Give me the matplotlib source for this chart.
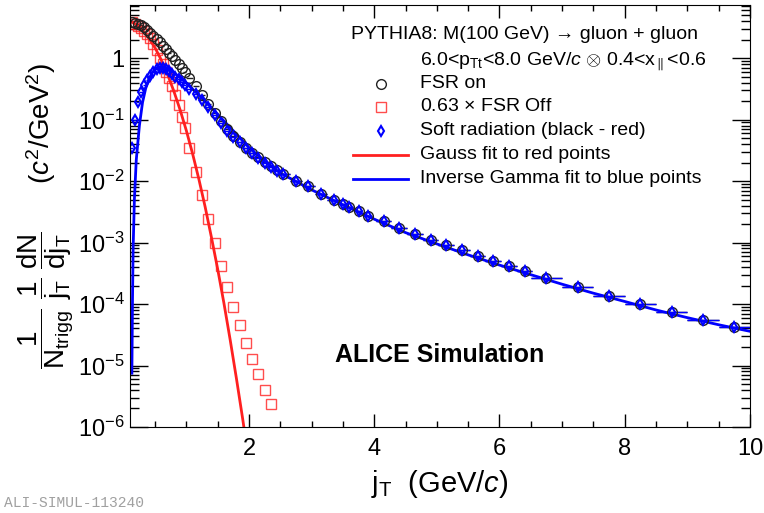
import numpy as np
import matplotlib
matplotlib.use("Agg")
import matplotlib.pyplot as plt
from matplotlib.lines import Line2D
from matplotlib.ticker import MultipleLocator, LogLocator, FuncFormatter, NullFormatter

plt.rcParams['font.family'] = ['Liberation Sans', 'DejaVu Sans']
plt.rcParams['mathtext.fontset'] = 'custom'
plt.rcParams['mathtext.rm'] = 'Liberation Sans'
plt.rcParams['mathtext.it'] = 'Liberation Sans:italic'
plt.rcParams['mathtext.bf'] = 'Liberation Sans:bold'

# bin centres (GeV/c) and half widths
jt = [0.125, 0.175, 0.225, 0.275, 0.325, 0.375, 0.425, 0.475, 0.525, 0.575,
      0.625, 0.675, 0.725, 0.775, 0.825, 0.875, 0.925, 0.975,
      1.05, 1.15, 1.25, 1.35, 1.45, 1.55, 1.65, 1.75, 1.85, 1.95, 2.05, 2.15,
      2.25, 2.35, 2.45,
      2.55, 2.75, 2.95, 3.15, 3.35, 3.5, 3.6, 3.75, 3.9, 4.15, 4.4, 4.65, 4.9,
      5.15, 5.4, 5.65, 5.9, 6.15, 6.4, 6.75, 7.25, 7.75, 8.25, 8.75, 9.25, 9.75]
jt_err = [0.025] * 18 + [0.05] * 15 + [0.1] * 5 + [0.06] * 4 + [0.125] * 10 + [0.25] * 7

# FSR on (black)
fsr_on = [3.9, 3.75, 3.6, 3.4, 3.15, 2.85, 2.6, 2.3, 2.05, 1.8,
          1.6, 1.4, 1.22, 1.07, 0.93, 0.81, 0.70, 0.60,
          0.48, 0.35, 0.25, 0.18, 0.13, 0.095, 0.069, 0.054, 0.043, 0.035, 0.029, 0.0245,
          0.0205, 0.0175, 0.015,
          0.0132, 0.0102, 0.0082, 0.0062, 0.0050, 0.0043, 0.00375, 0.0032, 0.00272, 0.00222,
          0.00173, 0.00138, 0.0011, 0.0009, 0.00076, 0.0006, 0.00051, 0.000415, 0.00035,
          0.00027, 0.00019, 0.000136, 0.0001, 7.4e-5, 5.6e-5, 4.25e-5]

# 0.63 x FSR off (red)
fsr_off = [3.85, 3.6, 3.3, 3.05, 2.8, 2.5, 2.15, 1.7, 1.35, 1.0,
           0.8, 0.6, 0.47, 0.35, 0.25, 0.17, 0.11, 0.072,
           0.035, 0.0138, 0.006, 0.00245, 0.001, 0.00042, 0.00019, 8.9e-5, 4.5e-5,
           2.3e-5, 1.3e-5, 7.3e-6, 4.0e-6, 2.35e-6]

# soft radiation (blue)
soft = [0.035, 0.10, 0.19, 0.28, 0.36, 0.44, 0.52, 0.60, 0.66, 0.69,
        0.69, 0.66, 0.62, 0.56, 0.50, 0.45, 0.41, 0.37,
        0.31, 0.26, 0.21, 0.16, 0.12, 0.088, 0.066, 0.053, 0.043, 0.035, 0.029, 0.024,
        0.020, 0.017, 0.0145,
        0.0132, 0.0102, 0.0082, 0.0062, 0.0050, 0.0043, 0.00375, 0.0032, 0.00272, 0.00222,
        0.00173, 0.00138, 0.0011, 0.0009, 0.00076, 0.0006, 0.00051, 0.000415, 0.00035,
        0.00027, 0.00019, 0.000136, 0.0001, 7.4e-5, 5.6e-5, 4.25e-5]

# fit curves
gauss_x = [0.10, 0.20, 0.30, 0.40, 0.50, 0.60, 0.70, 0.80, 0.90, 1.00,
           1.10, 1.20, 1.30, 1.40, 1.50, 1.60, 1.70, 1.80, 1.90, 1.95]
gauss_y = [4.0, 3.5, 2.85, 2.1, 1.47, 0.93, 0.54, 0.29, 0.144, 0.066,
           0.0277, 0.0107, 0.0038, 0.00122, 3.7e-4, 1.03e-4, 2.6e-5, 6.1e-6, 1.34e-6, 6e-7]

igam_x = [0.13, 0.14, 0.15, 0.17, 0.20, 0.25, 0.30, 0.35, 0.40, 0.45, 0.50, 0.55,
          0.60, 0.65, 0.70, 0.80, 0.90, 1.00, 1.20, 1.40, 1.60, 1.80, 2.00, 2.25,
          2.50, 3.00, 3.50, 4.00, 4.50, 5.00, 5.50, 6.00, 6.50, 7.00, 7.50, 8.00,
          8.50, 9.00, 9.50, 10.0]
igam_y = [7.5e-6, 1.2e-4, 8e-4, 0.005, 0.022, 0.08, 0.19, 0.32, 0.45, 0.57, 0.66, 0.71,
          0.72, 0.71, 0.68, 0.58, 0.48, 0.39, 0.25, 0.155, 0.095, 0.058, 0.035, 0.021,
          0.0135, 0.0072, 0.0041, 0.0024, 0.00145, 9.5e-4, 6.3e-4, 4.3e-4, 3.0e-4, 2.1e-4,
          1.5e-4, 1.1e-4, 8.0e-5, 6.0e-5, 4.6e-5, 3.6e-5]

red = '#ff2020'
blue = '#0000ff'

fig = plt.figure(figsize=(7.64, 5.13), dpi=100)
ax = fig.add_axes([130 / 764, 86 / 513, 620 / 764, 422 / 513])

ax.errorbar(jt, fsr_on, xerr=jt_err, fmt='o', ms=7, mfc='none', mec='#222222', mew=1.0,
            ecolor='#222222', elinewidth=1.0)
nr = len(fsr_off)
ax.plot(jt[:nr], fsr_off, 's', ms=7.5, mfc='none', mec=red, mew=1.0, alpha=0.8)
ax.errorbar(jt, soft, xerr=jt_err, fmt='d', ms=5.5, mfc='none', mec=blue, mew=1.5,
            ecolor=blue, elinewidth=1.0)
ax.plot(gauss_x, gauss_y, color=red, lw=2)
ax.plot(igam_x, igam_y, color=blue, lw=2)

ax.set_yscale('log')
ax.set_xlim(0.1, 10)
ax.set_ylim(1e-6, 7.3)

ax.xaxis.set_major_locator(MultipleLocator(2))
ax.xaxis.set_minor_locator(MultipleLocator(0.5))
ax.yaxis.set_major_locator(LogLocator(base=10, numticks=20))
ax.yaxis.set_minor_locator(LogLocator(base=10, subs=np.arange(2, 10), numticks=20))
ax.yaxis.set_minor_formatter(NullFormatter())


def ylab(v, pos):
    e = int(round(np.log10(v)))
    if e == 0:
        return '1'
    return r'10$^{%d}$' % e


ax.yaxis.set_major_formatter(FuncFormatter(ylab))
ax.tick_params(which='both', direction='in', top=True, right=True, labelsize=17, width=1)
ax.tick_params(axis='x', which='major', length=9.5, pad=8)
ax.tick_params(axis='x', which='minor', length=4.5)
ax.tick_params(axis='y', which='major', length=13, pad=4)
ax.tick_params(axis='y', which='minor', length=6.5)

ax.set_xlabel(r'j$_{\rm T}$  (GeV/$c$)', fontsize=21, labelpad=6)
ax.set_ylabel(r'$\dfrac{1}{{\rm N}_{\rm trigg}}\ \dfrac{1}{{\rm j}_{\rm T}}\ \dfrac{\rm dN}{{\rm dj}_{\rm T}}$'
              r'$\qquad$($c^{2}$/GeV$^{2}$)', fontsize=20, labelpad=2)

# header and legend, placed in pixels
def fx(px):
    return px / 764


def fy(py):
    return 1 - py / 513


fs = 14
fig.text(fx(351), fy(35), 'PYTHIA8: M(100 GeV) \u2192 gluon + gluon', fontsize=fs, va='center')
fig.text(fx(420), fy(61), r'6.0<p$_{\rm Tt}$<8.0 GeV/$c$ $\otimes$ 0.4<x$_{\parallel}$<0.6', fontsize=fs, va='center')

rows = [('FSR on', dict(marker='o', ms=7, mfc='none', mec='#222222', ls='none')),
        (r'0.63 $\times$ FSR Off', dict(marker='s', ms=7.5, mfc='none', mec=red, ls='none', alpha=0.8)),
        ('Soft radiation (black - red)', dict(marker='d', ms=5.5, mfc='none', mec=blue, mew=1.5, ls='none')),
        ('Gauss fit to red points', dict(color=red, lw=2)),
        ('Inverse Gamma fit to blue points', dict(color=blue, lw=2))]
row_y = [84, 107, 131, 155, 179]
for (lab, st), py in zip(rows, row_y):
    if st.get('ls') == 'none':
        fig.add_artist(Line2D([fx(381)], [fy(py)], transform=fig.transFigure, **st))
    else:
        fig.add_artist(Line2D([fx(353), fx(408)], [fy(py), fy(py)], transform=fig.transFigure, **st))
    fig.text(fx(420), fy(py), lab, fontsize=fs, va='center')

fig.text(fx(440), fy(355), 'ALICE Simulation', fontsize=18, fontweight='bold', ha='center', va='center')
fig.text(fx(4), fy(503), 'ALI-SIMUL-113240', fontsize=10.5, family='Liberation Mono', color='#a0a0a0', va='center')

plt.savefig('out.png', dpi=100)
